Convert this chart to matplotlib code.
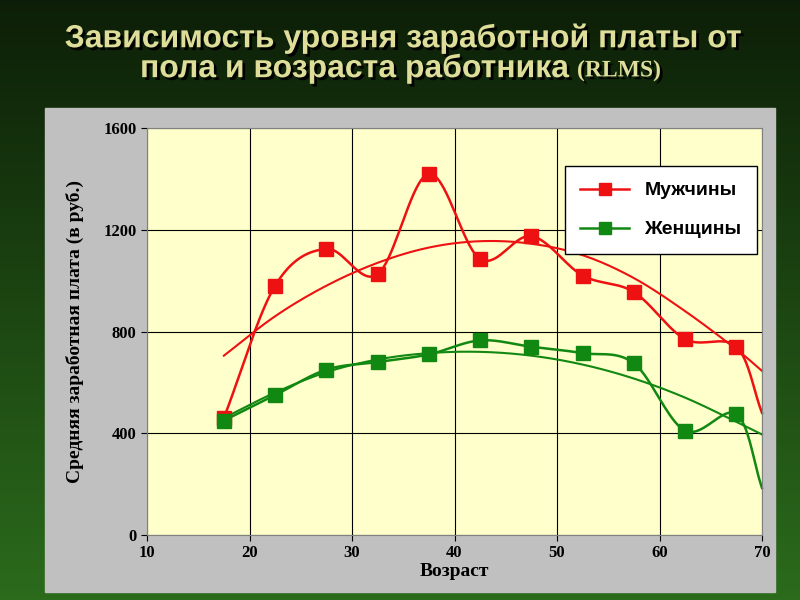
import numpy as np
import matplotlib.pyplot as plt
from matplotlib.patches import Rectangle
import matplotlib.patheffects as pe

ages = [17.5, 22.5, 27.5, 32.5, 37.5, 42.5, 47.5, 52.5, 57.5, 62.5, 67.5]
men = [460, 980, 1125, 1025, 1420, 1085, 1175, 1020, 955, 770, 740]
women = [450, 550, 650, 680, 710, 765, 740, 715, 675, 410, 475]
# line tails past the last marker
tail_x, men_tail, women_tail = 70, 480, 185
# trend curves
trend_x = [17.5, 22.5, 27.5, 32.5, 37.5, 42.5, 47.5, 52.5, 57.5, 62.5, 67.5, 70]
men_trend = [705, 860, 980, 1070, 1130, 1155, 1145, 1100, 1010, 880, 730, 645]
women_trend = [460, 560, 640, 690, 715, 720, 705, 670, 615, 540, 445, 395]


def smooth(x, y, n=20):
    x = np.asarray(x, float); y = np.asarray(y, float)
    px = np.concatenate([[2*x[0]-x[1]], x, [2*x[-1]-x[-2]]])
    py = np.concatenate([[2*y[0]-y[1]], y, [2*y[-1]-y[-2]]])
    ox, oy = [], []
    t = np.linspace(0, 1, n, endpoint=False)
    for i in range(1, len(px)-2):
        for arr, out in ((px, ox), (py, oy)):
            p0, p1, p2, p3 = arr[i-1:i+3]
            out.extend(0.5*((2*p1) + (-p0+p2)*t + (2*p0-5*p1+4*p2-p3)*t**2
                            + (-p0+3*p1-3*p2+p3)*t**3))
    ox.append(x[-1]); oy.append(y[-1])
    return ox, oy


fig = plt.figure(figsize=(8, 6), dpi=100)
bg = fig.add_axes([0, 0, 1, 1])
grad = np.linspace(0, 1, 256)[:, None]
cols = np.stack([0.05 + 0.12*grad, 0.12 + 0.30*grad, 0.03 + 0.08*grad], axis=2)
bg.imshow(np.repeat(cols, 2, axis=1), aspect='auto', extent=[0, 1, 0, 1], origin='upper')
bg.add_patch(Rectangle((45/800, 8/600), 730/800, 484/600, color='#c0c0c0'))
bg.axis('off')

shadow = [pe.withSimplePatchShadow(offset=(2, -2), shadow_rgbFace='black', alpha=0.9)]
tcol = '#dede9a'
fig.text(0.505, 0.935, 'Зависимость уровня заработной платы от', ha='center', va='center',
         fontsize=23, fontweight='bold', family='Liberation Sans', color=tcol,
         path_effects=shadow)
fig.text(570/800, 0.885, 'пола и возраста работника', ha='right', va='center',
         fontsize=23, fontweight='bold', family='Liberation Sans', color=tcol,
         path_effects=shadow)
fig.text(577/800, 0.882, '(RLMS)', ha='left', va='center',
         fontsize=17, fontweight='bold', family='Liberation Serif', color=tcol,
         path_effects=shadow)

ax = fig.add_axes([147/800, 65/600, 615/800, 407/600])
ax.set_facecolor('#ffffcc')
ax.set_xlim(10, 70)
ax.set_ylim(0, 1600)
ax.set_xticks(range(10, 71, 10))
ax.set_yticks(range(0, 1601, 400))
ax.grid(color='black', lw=0.8)
ax.set_axisbelow(True)
for s in ax.spines.values():
    s.set_color('#808080')
ax.tick_params(labelsize=12, length=4)
for lab in ax.get_xticklabels() + ax.get_yticklabels():
    lab.set_fontweight('bold'); lab.set_family('Liberation Serif')

red, green = '#ee1111', '#118811'
ax.plot(*smooth(ages + [tail_x], men + [men_tail]), color=red, lw=1.8, clip_on=False)
ax.plot(*smooth(ages + [tail_x], women + [women_tail]), color=green, lw=1.8, clip_on=False)
ax.plot(*smooth(trend_x, men_trend), color=red, lw=1.5, clip_on=False)
ax.plot(*smooth(trend_x, women_trend), color=green, lw=1.5, clip_on=False)
ax.plot(ages, men, 's', color=red, ms=10)
ax.plot(ages, women, 's', color=green, ms=10)

h = [plt.Line2D([], [], color=red, marker='s', ms=9, lw=1.8),
     plt.Line2D([], [], color=green, marker='s', ms=9, lw=1.8)]
leg = ax.legend(h, ['Мужчины', 'Женщины'], loc='upper right', bbox_to_anchor=(1.008, 0.93),
                fancybox=False, edgecolor='black', framealpha=1, borderpad=0.8,
                labelspacing=1.1, handlelength=2.5,
                prop={'family': 'Liberation Sans', 'size': 14, 'weight': 'bold'})
leg.get_frame().set_linewidth(1)

ax.set_xlabel('Возраст', fontsize=14, fontweight='bold', family='Liberation Serif', labelpad=1)
ax.set_ylabel('Средняя заработная плата (в руб.)', fontsize=14, fontweight='bold',
              family='Liberation Serif', labelpad=14)

fig.savefig('out.png', dpi=100)
